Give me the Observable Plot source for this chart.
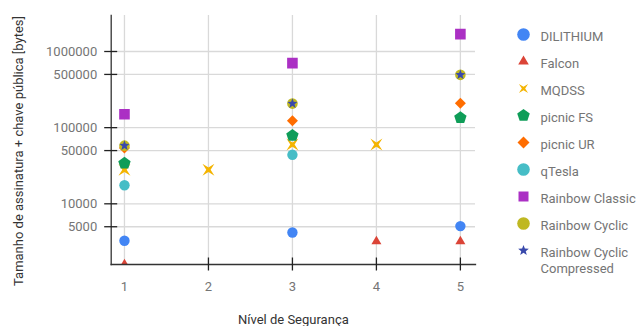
<!DOCTYPE html>
<html><head><meta charset="utf-8">
<script src="https://cdn.jsdelivr.net/npm/d3@7"></script>
<script src="https://cdn.jsdelivr.net/npm/@observablehq/plot@0.6"></script>
<style>
html,body{margin:0;padding:0;background:#fff;}
#wrap{position:relative;width:637px;height:326px;overflow:hidden;font-family:Roboto,sans-serif;}
#legend{position:absolute;left:490px;top:0;}
</style></head><body><div id="wrap"><div id="chart"></div><div id="legend"></div></div>
<script>
// ---- data ----
const levels = [1, 2, 3, 4, 5];
const series = ["DILITHIUM", "Falcon", "MQDSS", "picnic FS", "picnic UR", "qTesla",
  "Rainbow Classic", "Rainbow Cyclic", "Rainbow Cyclic Compressed"];
const dilithium         = [3270, null, 4200, null, 5100];
const falcon            = [1600, null, null, 3200, 3200];
const mqdss             = [28000, 28000, 60000, 60000, null];
const picnicFS          = [34100, null, 78900, null, 134600];
const picnicUR          = [54000, null, 123000, null, 209000];
const qtesla            = [17500, null, 44000, null, null];
const rainbowClassic    = [150000, null, 703000, null, 1690000];
const rainbowCyclic     = [58000, null, 207000, null, 494000];
const rainbowCompressed = [58000, null, 207000, null, 494000];
const values = [dilithium, falcon, mqdss, picnicFS, picnicUR, qtesla, rainbowClassic, rainbowCyclic, rainbowCompressed];
const yTicks = [5000, 10000, 50000, 100000, 500000, 1000000];
const xTicks = [1, 2, 3, 4, 5];
const xTickMarks = [2, 3, 4, 5];
const yLabel = "Tamanho de assinatura + chave pública [bytes]";
const xLabel = "Nível de Segurança";

// ---- styles ----
const colors = ["#4285F4", "#DB4437", "#F4B400", "#0F9D58", "#FF6D00", "#46BDC6", "#AB30C4", "#BFB822", "#3949AB"];
function poly(pts) {
  return {draw(ctx, size) {
    const r = Math.sqrt(size / Math.PI);
    pts.forEach(([a, b], i) => i ? ctx.lineTo(a * r, b * r) : ctx.moveTo(a * r, b * r));
    ctx.closePath();
  }};
}
const symTriangle = poly([[0, -1.13], [1, 0.57], [-1, 0.57]]);
const symX = poly([[-1, -1], [0, -0.36], [1, -1], [0.36, 0], [1, 1], [0, 0.36], [-1, 1], [-0.36, 0]]);
const symPentagon = poly(d3.range(5).map(k => { const a = -Math.PI / 2 + k * 2 * Math.PI / 5; return [Math.cos(a), Math.sin(a)]; }));
const symDiamond = poly([[0, -1], [1, 0], [0, 1], [-1, 0]]);
const symSquare = poly([[-1, -1], [1, -1], [1, 1], [-1, 1]]);
const symStar = poly(d3.range(10).map(k => { const a = -Math.PI / 2 + k * Math.PI / 5, rr = k % 2 ? 0.42 : 1; return [rr * Math.cos(a), rr * Math.sin(a)]; }));
const symbols = ["circle", symTriangle, symX, symPentagon, symDiamond, "circle", symSquare, "circle", symStar];
const radii = [5.2, 5, 6, 6.5, 5.5, 5.2, 5.3, 5.3, 5.3];
const legendRadii = [6.3, 5.3, 4.6, 6.6, 6, 6.3, 5, 6.3, 5.6];

const dotMarks = series.map((s, j) => {
  const rows = levels.map((l, i) => ({level: l, value: values[j][i]})).filter(d => d.value != null);
  return Plot.dot(rows, {x: "level", y: "value", symbol: symbols[j], r: radii[j], fill: colors[j], stroke: "none", clip: true});
});

const chart = Plot.plot({
  width: 637, height: 326,
  marginLeft: 110.7, marginRight: 162, marginTop: 15, marginBottom: 62,
  style: {fontFamily: "Roboto, sans-serif", fontSize: "13px", background: "transparent"},
  x: {domain: [0.842, 5.18]},
  y: {type: "log", domain: [1596, 2.97e6]},
  marks: [
    Plot.gridY(yTicks, {stroke: "#d9d9d9", strokeOpacity: 1, strokeWidth: 1.3}),
    Plot.gridX(xTicks, {stroke: "#d9d9d9", strokeOpacity: 1, strokeWidth: 1.3}),
    ...dotMarks,
    Plot.frame({anchor: "left", stroke: "#333", strokeWidth: 1.3}),
    Plot.frame({anchor: "bottom", stroke: "#333", strokeWidth: 1.3}),
    Plot.axisY(yTicks, {tickSize: 13, dx: 6.5, stroke: "#222", strokeWidth: 1.3, fill: "none", label: null}),
    Plot.axisX(xTickMarks, {tickSize: 13, dy: -6.5, stroke: "#222", strokeWidth: 1.3, fill: "none", label: null}),
    Plot.text(yTicks, {y: d => d, text: d => d3.format("d")(d), frameAnchor: "left", dx: -14, textAnchor: "end", fill: "#757575"}),
    Plot.text(xTicks, {x: d => d, text: d => String(d), frameAnchor: "bottom", dy: 17, lineAnchor: "top", textAnchor: "middle", fill: "#757575"}),
    Plot.text([yLabel], {frameAnchor: "left", rotate: -90, dx: -92.7, dy: 11, textAnchor: "middle", fill: "#333"}),
    Plot.text([xLabel], {frameAnchor: "bottom", lineAnchor: "top", textAnchor: "middle", dy: 50, fill: "#333"})
  ]
});
document.getElementById("chart").append(chart);

const legendMarks = series.map((s, j) =>
  Plot.dot([s], {y: d => d, frameAnchor: "left", dx: 33, symbol: symbols[j], r: legendRadii[j], fill: colors[j], stroke: "none"}));
const legend = Plot.plot({
  width: 147, height: 326, margin: 0,
  style: {fontFamily: "Roboto, sans-serif", fontSize: "13px", background: "transparent"},
  y: {type: "point", domain: series, range: [34, 250.7], padding: 0, axis: null},
  marks: [
    ...legendMarks,
    Plot.text(series, {y: d => d, text: d => d, frameAnchor: "left", dx: 50, textAnchor: "start",
      lineAnchor: "top", dy: -5, lineWidth: 8, lineHeight: 1.25, fill: "#757575"})
  ]
});
document.getElementById("legend").append(legend);
</script></body></html>
